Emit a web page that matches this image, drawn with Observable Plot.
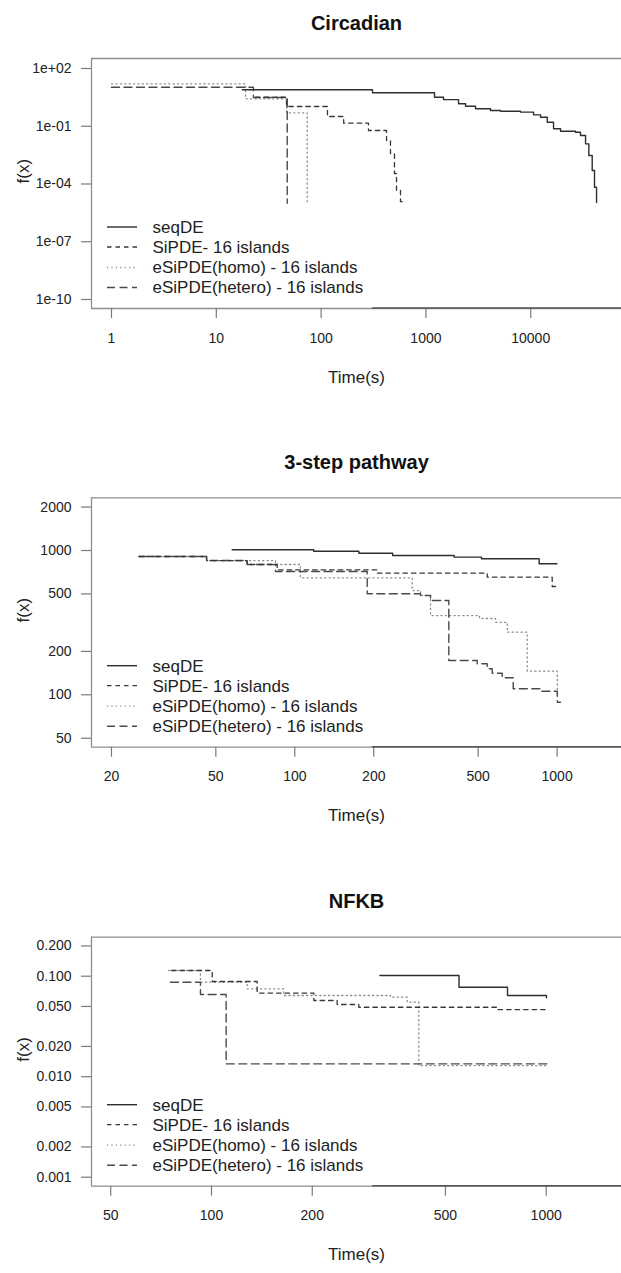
<!DOCTYPE html>
<html><head><meta charset="utf-8">
<script src="https://cdn.jsdelivr.net/npm/d3@7"></script>
<script src="https://cdn.jsdelivr.net/npm/@observablehq/plot@0.6"></script>
<style>
html,body{margin:0;padding:0;background:#fff;overflow:hidden;}
#wrap{position:relative;width:621px;height:1273px;overflow:hidden;}
#wrap svg{position:absolute;left:0;display:block;overflow:visible;}
</style></head><body><div id="wrap"></div>
<script>
// ---------- legend / series names ----------
const seriesKeys  = ["seqDE", "SiPDE", "homo", "hetero"];
const seriesNames = ["seqDE", "SiPDE- 16 islands", "eSiPDE(homo) - 16 islands", "eSiPDE(hetero) - 16 islands"];

// ---------- Circadian ----------
const circSeqT = [17.7, 309, 1208, 1473, 2047, 2388, 2974, 4133, 5150, 7990, 10640, 12400, 14370, 16500, 19250, 26740, 29850, 33340, 35840, 38600, 40600, 42460];
const circSeqF = [7.8, 5.5, 3.2, 2.4, 1.47, 1.1, 0.81, 0.66, 0.6, 0.54, 0.39, 0.295, 0.162, 0.074, 0.055, 0.049, 0.033, 0.0122, 0.003, 5e-4, 6.8e-5, 1.1e-5];
const circSiT  = [23.7, 46.8, 115, 164, 283, 421, 459, 501, 524, 572, 598];
const circSiF  = [3.2, 1.06, 0.32, 0.144, 0.060, 0.018, 0.0038, 3.5e-4, 4.6e-5, 1.2e-5, 1.2e-5];
const circHomoT = [1, 19, 46.8, 73.6];
const circHomoF = [16, 2.67, 0.5, 1e-5];
const circHetT  = [1, 22.6, 47.5];
const circHetF  = [10.7, 3.1, 1e-5];
const circXTicks = [1, 10, 100, 1000, 10000];
const circXLabels = ["1", "10", "100", "1000", "10000"];
const circYTicks = [1e2, 1e-1, 1e-4, 1e-7, 1e-10];
const circYLabels = ["1e+02", "1e-01", "1e-04", "1e-07", "1e-10"];

// ---------- 3-step pathway ----------
const pathSeqT = [57.7, 118, 175.5, 236, 405, 515, 854, 998];
const pathSeqF = [1011, 989, 958, 923, 899, 876, 809, 809];
const pathSiT  = [25.5, 46.1, 65.8, 85.7, 206.2, 541.5, 957.9, 1015];
const pathSiF  = [909, 852, 800, 733, 696, 653, 563, 563];
const pathHomoT = [25.5, 46.1, 84.4, 105, 280.3, 301.5, 329.2, 506, 582.4, 645.4, 769.1, 1002, 1015];
const pathHomoF = [909, 852, 800, 647, 528, 488, 354, 338, 318, 271.5, 145.7, 98.9, 98.9];
const pathHetT  = [25.5, 46.1, 65.8, 84.4, 188.8, 301.5, 329.2, 386.5, 496, 541.5, 565.7, 617.6, 680.3, 864.5, 1002, 1030];
const pathHetF  = [909, 852, 800, 715, 501, 488, 450, 173, 164, 151.4, 141.2, 131.2, 110.1, 105.9, 88.9, 88.9];
const pathXTicks = [20, 50, 100, 200, 500, 1000];
const pathXLabels = ["20", "50", "100", "200", "500", "1000"];
const pathYTicks = [50, 100, 200, 500, 1000, 2000];
const pathYLabels = ["50", "100", "200", "500", "1000", "2000"];

// ---------- NFKB ----------
const nfkbSeqT = [318.5, 549, 766.3, 1002];
const nfkbSeqF = [0.1016, 0.0777, 0.0643, 0.061];
const nfkbSiT  = [76, 100.5, 136.9, 202.2, 237.4, 275.5, 715.4, 1007];
const nfkbSiF  = [0.1139, 0.0886, 0.068, 0.0573, 0.0523, 0.0491, 0.0466, 0.0466];
const nfkbHomoT = [74.5, 92.7, 127.8, 164.4, 342.6, 384.3, 416.3, 1007];
const nfkbHomoF = [0.1139, 0.0872, 0.0749, 0.0643, 0.0618, 0.0551, 0.0129, 0.0129];
const nfkbHetT  = [75.4, 92.7, 110.6, 1007];
const nfkbHetF  = [0.0872, 0.0657, 0.01343, 0.01343];
const nfkbXTicks = [50, 100, 200, 500, 1000];
const nfkbXLabels = ["50", "100", "200", "500", "1000"];
const nfkbYTicks = [0.001, 0.002, 0.005, 0.010, 0.020, 0.050, 0.100, 0.200];
const nfkbYLabels = ["0.001", "0.002", "0.005", "0.010", "0.020", "0.050", "0.100", "0.200"];

// ---------- styles ----------
const lineStyle = {
  seqDE:  {stroke: "#2e2e2e", dash: null,      width: 1.4},
  SiPDE:  {stroke: "#383838", dash: "4.5,4",   width: 1.3},
  homo:   {stroke: "#8c8c8c", dash: "1.2,3.2", width: 1.3},
  hetero: {stroke: "#4a4a4a", dash: "8,4.5",   width: 1.4}
};
const FONT = "'Liberation Sans', Arial, Helvetica, sans-serif";

const zip = (t, f) => t.map((v, i) => ({t: v, f: f[i]}));

const panels = [
  {title: "Circadian", top: 0, height: 420, marginTop: 58, marginBottom: 112,
   xDomain: [Math.pow(10, -0.1908), Math.pow(10, 4.866)],
   yDomain: [Math.pow(10, -10.468), Math.pow(10, 2.519)],
   xTicks: circXTicks, xLabels: circXLabels, yTicks: circYTicks, yLabels: circYLabels,
   series: {seqDE: zip(circSeqT, circSeqF), SiPDE: zip(circSiT, circSiF), homo: zip(circHomoT, circHomoF), hetero: zip(circHetT, circHetF)}},
  {title: "3-step pathway", top: 420, height: 440, marginTop: 77.3, marginBottom: 113.3,
   xDomain: [Math.pow(10, 1.2249), Math.pow(10, 3.2455)],
   yDomain: [Math.pow(10, 1.6369), Math.pow(10, 3.3652)],
   xTicks: pathXTicks, xLabels: pathXLabels, yTicks: pathYTicks, yLabels: pathYLabels,
   series: {seqDE: zip(pathSeqT, pathSeqF), SiPDE: zip(pathSiT, pathSiF), homo: zip(pathHomoT, pathHomoF), hetero: zip(pathHetT, pathHetF)}},
  {title: "NFKB", top: 860, height: 413, marginTop: 76.7, marginBottom: 87.3,
   xDomain: [Math.pow(10, 1.6415), Math.pow(10, 3.225)],
   yDomain: [Math.pow(10, -3.0896), Math.pow(10, -0.6119)],
   xTicks: nfkbXTicks, xLabels: nfkbXLabels, yTicks: nfkbYTicks, yLabels: nfkbYLabels,
   series: {seqDE: zip(nfkbSeqT, nfkbSeqF), SiPDE: zip(nfkbSiT, nfkbSiF), homo: zip(nfkbHomoT, nfkbHomoF), hetero: zip(nfkbHetT, nfkbHetF)}}
];

const wrap = document.getElementById("wrap");

panels.forEach(cfg => {
  const frameStyle = {stroke: "#8e8e8e", strokeWidth: 1.3};
  const tickStyle = {stroke: "#7a7a7a", strokeWidth: 1.2, tickSize: 10, tickFormat: () => "", label: null};
  const marks = [
    Plot.ruleY([cfg.yDomain[1]], frameStyle),
    Plot.ruleY([cfg.yDomain[0]], frameStyle),
    Plot.ruleX([cfg.xDomain[0]], frameStyle),
    Plot.axisX(cfg.xTicks, tickStyle),
    Plot.axisY(cfg.yTicks, {...tickStyle, anchor: "left"}),
    Plot.text(cfg.xTicks, {x: d => d, text: (d, i) => cfg.xLabels[i], frameAnchor: "bottom", dy: 34,
      fontSize: 14, fill: "#222"}),
    Plot.text(cfg.yTicks, {y: d => d, text: (d, i) => cfg.yLabels[i], frameAnchor: "left", dx: -20,
      textAnchor: "end", fontSize: 14, fill: "#222"}),
    Plot.text([cfg.title], {text: d => d, frameAnchor: "top", dy: -43, fontSize: 20, fontWeight: "bold", fill: "#111"}),
    Plot.text(["Time(s)"], {text: d => d, frameAnchor: "bottom", dy: 74, fontSize: 17, fill: "#222"}),
    Plot.text(["f(x)"], {text: d => d, frameAnchor: "left", dx: -68, rotate: -90, fontSize: 17, fill: "#222"})
  ];
  // draw order: homo, hetero, SiPDE, seqDE
  ["homo", "hetero", "SiPDE", "seqDE"].forEach(k => {
    const s = lineStyle[k];
    marks.push(Plot.line(cfg.series[k], {x: "t", y: "f", curve: "step-after", stroke: s.stroke,
      strokeWidth: s.width, strokeDasharray: s.dash || undefined}));
  });
  const chart = Plot.plot({
    width: 621, height: cfg.height,
    marginLeft: 91, marginRight: 0, marginTop: cfg.marginTop, marginBottom: cfg.marginBottom,
    x: {type: "log", domain: cfg.xDomain, axis: null},
    y: {type: "log", domain: cfg.yDomain, axis: null},
    style: {fontFamily: FONT, background: "transparent", color: "#222", overflow: "visible"},
    marks
  });
  chart.style.top = cfg.top + "px";
  wrap.appendChild(chart);

  const svg = d3.select(chart);
  const bottom = cfg.height - cfg.marginBottom;
  // darker right part of the bottom border, as in the source image
  svg.append("line").attr("x1", 372).attr("x2", 621).attr("y1", bottom).attr("y2", bottom)
    .attr("stroke", "#555").attr("stroke-width", 1.4);

  // legend (inside the frame, lower-left)
  const offs = [81, 61, 40.5, 20.5];
  const g = svg.append("g").attr("font-family", FONT).attr("text-anchor", "start");
  seriesKeys.forEach((k, i) => {
    const s = lineStyle[k];
    const y = bottom - offs[i];
    g.append("line").attr("x1", 107).attr("x2", 137).attr("y1", y).attr("y2", y)
      .attr("stroke", s.stroke).attr("stroke-width", s.width)
      .attr("stroke-dasharray", s.dash);
    g.append("text").attr("x", 152.5).attr("y", y).attr("dy", "0.35em")
      .attr("font-size", 17).attr("fill", "#222").attr("text-anchor", "start").text(seriesNames[i]);
  });
});
</script>
</body></html>
